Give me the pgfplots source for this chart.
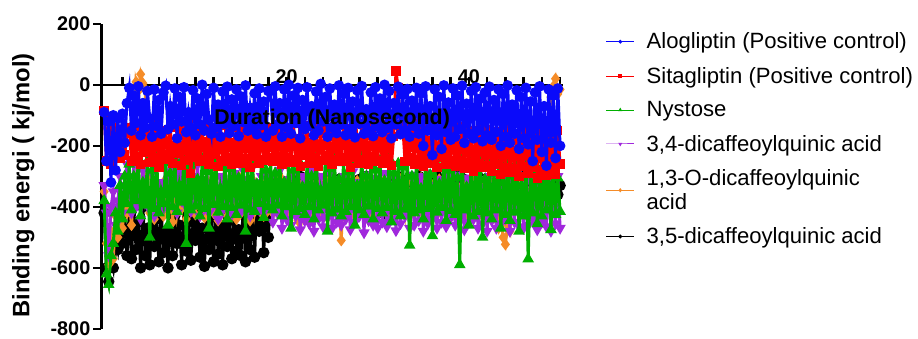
\documentclass[border=0pt]{standalone}
\usepackage{fontspec}
\setmainfont{Liberation Sans}
\usepackage{pgfplots}
\usepackage{pgfplotstable}
\pgfplotsset{compat=1.18}
\definecolor{cblue}{RGB}{10,10,250}
\definecolor{cred}{RGB}{252,0,0}
\definecolor{cgreen}{RGB}{0,175,0}
\definecolor{cpurple}{RGB}{160,40,220}
\definecolor{corange}{RGB}{245,140,40}

\pgfplotstableread{
x B R G P O K
0 -90 -85 -380 -330 -350 -420
0.25 -250 -250 -620 -420 -520 -600
0.5 -120 -110 -655 -560 -590 -645
0.75 -320 -260 -560 -400 -480 -560
1 -100 -140 -520 -350 -570 -600
1.25 -280 -230 -420 -460 -430 -500
1.5 -110 -170 -480 -380 -500 -540
1.75 -220 -240 -330 -300 -400 -450
2 -95 -150 -440 -420 -470 -520
2.25 -190 -230 -300 -330 -380 -420
2.5 -60 -160 -390 -260 -420 -560
2.75 -10 -140 -260 -300 -380 -420
3 -150 -250 -410 -420 -460 -570
3.25 -35 -170 -300 -260 -320 -390
3.5 -125 -235 -380 -400 10 -540
3.75 -5 -135 -240 -330 -20 -450
4 -165 -262 -430 -440 35 -600
4.25 -60 -190 -320 -280 5 -400
4.5 -140 -220 -395 -380 -15 -560
4.75 -20 -145 -250 -350 -300 -470
5 -110 -255 -500 -410 -420 -590
5.25 -170 -160 -280 -290 -350 -380
5.5 -15 -240 -405 -430 -440 -530
5.75 -135 -130 -235 -270 -330 -440
6 -50 -270 -420 -395 -400 -580
6.25 -160 -180 -350 -320 -360 -410
6.5 -25 -245 -390 -405 -430 -550
6.75 -3 -150 -255 -250 -310 -480
7 -145 -230 -460 -390 -410 -600
7.25 -70 -138 -290 -215 -340 -395
7.5 -130 -258 -400 -360 -450 -560
7.75 -12 -200 -245 -230 -300 -430
8 -175 -225 -415 -420 -420 -520
8.25 -40 -142 -330 -210 -370 -460
8.5 -120 -265 -385 -380 -405 -590
8.75 -8 -165 -238 -240 -320 -405
9 -155 -248 -520 -400 -440 -545
9.25 -90 -132 -270 -225 -350 -420
9.5 -140 -290 -410 -415 -415 -575
9.75 -18 -175 -252 -300 -305 -450
10 -165 -236 -398 -390 -425 -510
10.25 -45 -148 -310 -260 -345 -390
10.5 -130 -252 -430 -430 -400 -565
10.75 0 -135 -242 -310 -330 -470
11 -150 -244 -405 -400 -435 -595
11.25 -30 -185 -285 -280 -310 -410
11.5 -115 -260 -470 -420 -410 -540
11.75 -160 -140 -258 -330 -360 -435
12 -10 -228 -392 -395 -420 -580
12.25 -140 -158 -236 -270 -300 -400
12.5 -65 -268 -418 -440 -445 -555
12.75 -170 -132 -340 -300 -340 -460
13 -22 -250 -400 -410 -400 -590
13.25 -128 -172 -248 -250 -315 -385
13.5 -6 -238 -440 -385 -430 -530
13.75 -158 -145 -275 -320 -355 -445
14 -48 -262 -402 -425 -410 -570
14.25 -135 -190 -232 -290 -325 -415
14.5 -15 -230 -425 -405 -440 -545
14.75 -168 -138 -305 -340 -300 -475
15 -38 -256 -395 -415 -420 -560
15.25 -122 -160 -250 -280 -350 -400
15.5 -2 -242 -480 -400 -405 -580
15.75 -150 -134 -265 -310 -335 -430
16 -75 -272 -408 -430 -445 -540
16.25 -140 -178 -240 -270 -310 -395
16.5 -28 -234 -415 -395 -415 -565
16.75 -162 -150 -325 -320 -365 -360
17 -12 -258 -390 -410 -400 -480
17.25 -132 -136 -255 -300 -320 -380
17.5 -55 -246 -435 -420 -430 -550
17.75 -170 -168 -280 -330 -345 -370
18 -20 -240 -400 -400 -410 -500
18.25 -20 -140 -250 -300 -320 -380
18.5 -150 -250 -410 -450 -420 -330
18.75 -5 -165 -290 -330 -350 -400
19 -130 -235 -395 -420 -400 -350
19.25 -60 -130 -240 -280 -300 -370
19.5 -170 -262 -430 -470 -430 -320
19.75 -15 -185 -320 -350 -340 -390
20 -140 -240 -400 -440 -410 -340
20.25 0 -150 -255 -310 -310 -360
20.5 -160 -255 -470 -460 -425 -310
20.75 -35 -125 -280 -290 -360 -380
21 -125 -245 -415 -430 -405 -330
21.25 -10 -175 -245 -340 -445 -350
21.5 -175 -268 -405 -475 -330 -300
21.75 -50 -145 -335 -300 -415 -370
22 -145 -230 -425 -445 -350 -340
22.25 -8 -135 -260 -320 -300 -320
22.5 -135 -258 -400 -455 -430 -360
22.75 -70 -190 -300 -280 -340 -300
23 -165 -238 -440 -480 -410 -380
23.25 -22 -128 -238 -350 -320 -340
23.5 -150 -266 -410 -440 -420 -310
23.75 3 -160 -345 -300 -355 -370
24 -120 -248 -395 -465 -400 -330
24.25 -40 -142 -250 -330 -310 -350
24.5 -170 -232 -480 -435 -435 -300
24.75 -12 -170 -275 -290 -345 -360
25 -140 -260 -420 -470 -415 -320
25.25 -65 -138 -242 -340 -325 -380
25.5 -158 -244 -408 -450 -405 -340
25.75 -2 -182 -310 -310 -360 -310
26 -130 -252 -430 -460 -510 -350
26.25 -30 -130 -255 -300 -330 -330
26.5 -165 -240 -415 -440 -420 -370
26.75 -10 -155 -285 -335 -300 -300
27 -145 -270 -400 -475 -410 -350
27.25 -55 -145 -245 -285 -345 -320
27.5 -172 -236 -460 -450 -430 -380
27.75 -18 -178 -330 -320 -315 -340
28 -128 -256 -410 -430 -400 -310
28.25 -4 -126 -235 -345 -350 -360
28.5 -160 -246 -425 -485 -425 -330
28.75 -80 -165 -300 -295 -305 -300
29 -150 -262 -398 -445 -415 -370
29.25 -25 -140 -260 -330 -335 -340
29.5 -168 -234 -440 -460 -430 -320
29.75 -8 -188 -280 -305 -320 -350
30 -138 -250 -405 -470 -405 -400
30.25 -45 -132 -248 -340 -310 -330
30.5 -155 -258 -420 -450 -420 -420
30.75 0 -160 -315 -290 -350 -360
31 -142 -242 -402 -465 -400 -440
31.25 -20 -148 -240 -325 -325 -340
31.5 -175 -264 -450 -440 -435 -410
31.75 -60 -170 -290 -300 -340 -320
32 -130 45 -415 -478 -410 -360
32.25 -6 -10 -258 -335 -300 -300
32.5 -162 -150 -430 -455 -425 -350
32.75 -32 -136 -270 -310 -355 -330
33 -148 -252 -408 -430 -415 -370
33.25 -14 -176 -245 -350 -320 -310
33.5 -170 -238 -526 -470 -430 -340
33.75 -52 -128 -300 -295 -345 -360
34 -135 -260 -420 -460 -400 -320
34.25 -10 -150 -252 -320 -330 -340
34.5 -160 -244 -410 -445 -420 -300
34.75 -28 -168 -340 -300 -305 -370
35 -200 -266 -440 -480 -410 -330
35.25 -5 -134 -236 -340 -350 -350
35.5 -150 -240 -405 -455 -430 -310
35.75 -70 -184 -295 -290 -320 -380
36 -230 -258 -495 -440 -400 -320
36.25 -15 -142 -250 -330 -340 -360
36.5 -165 -272 -418 -470 -425 -300
36.75 -40 -160 -325 -310 -310 -340
37 -210 -236 -402 -450 -415 -370
37.25 -2 -130 -244 -345 -355 -310
37.5 -155 -262 -445 -465 -405 -350
37.75 -58 -174 -280 -300 -325 -330
38 -180 -248 -412 -435 -435 -360
38.25 -12 -146 -258 -330 -300 -320
38.5 -170 -268 -425 -460 -420 -370
38.75 -35 -180 -305 -295 -345 -300
39 -145 -250 -590 -448 -410 -350
39.25 -3 -138 -240 -340 -330 -340
39.5 -190 -275 -410 -475 -430 -310
39.75 -62 -162 -335 -305 -315 -360
40 -160 -255 -460 -450 -400 -330
40.25 -20 -150 -250 -325 -350 -380
40.5 -175 -282 -430 -440 -425 -320
40.75 -8 -172 -285 -290 -305 -350
41 -150 -260 -415 -470 -415 -300
41.25 -45 -140 -238 -335 -340 -370
41.5 -185 -270 -500 -455 -430 -340
41.75 -25 -190 -310 -310 -320 -310
42 -165 -265 -420 -480 -410 -360
42.25 -6 -148 -255 -300 -335 -330
42.5 -180 -285 -440 -445 -420 -360
42.75 -50 -175 -290 -330 -310 -310
43 -155 -262 -410 -470 -440 -380
43.25 -15 -155 -245 -290 -470 -340
43.5 -200 -295 -470 -455 -430 -300
43.75 -30 -168 -320 -340 -500 -350
44 -170 -270 -425 -440 -523 -370
44.25 -2 -140 -250 -310 -460 -320
44.5 -190 -288 -445 -480 -480 -340
44.75 -65 -182 -300 -325 -330 -360
45 -160 -275 -418 -450 -415 -310
45.25 -18 -160 -240 -295 -350 -380
45.5 -210 -300 -480 -465 -405 -330
45.75 -40 -170 -330 -345 -320 -350
46 -175 -268 -430 -470 -430 -300
46.25 -10 -150 -252 -320 -310 -340
46.5 -195 -290 -571 -460 -420 -370
46.75 -55 -178 -295 -300 -345 -320
47 -250 -272 -420 -440 -400 -350
47.25 -25 -162 -245 -335 -330 -300
47.5 -180 -305 -455 -475 -425 -360
47.75 -5 -145 -315 -290 -305 -330
48 -220 -280 -430 -450 -410 -380
48.25 -70 -185 -258 -330 -350 -310
48.5 -265 -298 -410 -465 -380 -340
48.75 -15 -158 -285 -305 -250 -370
49 -190 -270 -475 -480 -40 -320
49.25 -35 -168 -240 -340 -5 -350
49.5 -240 -292 -425 -455 20 -300
49.75 -12 -150 -305 -300 -30 -360
50 -200 -260 -415 -470 -15 -330
}\datatable

\begin{document}
\begin{tikzpicture}
\begin{axis}[
  scale only axis, width=464bp, height=306.7bp,
  at={(0bp,0bp)}, anchor=south west,
  xmin=-0.3, xmax=50.3, ymin=-800, ymax=200,
  axis x line=middle, axis y line*=left,
  axis line style={line width=2.5bp, -},
  clip mode=individual,
  every tick/.style={black, line width=2.5bp},
  major tick length=8bp, minor tick length=8bp,
  ytick={-800,-600,-400,-200,0,200},
  ytick align=outside,
  xtick={20,40}, minor xtick={2,4,...,50},
  xtick align=center,
  x tick style={yshift=4bp},
  /pgf/number format/assume math mode=true,
  ticklabel style={font=\bfseries\fontsize{20}{24}\selectfont},
  xticklabel style={anchor=south, inner sep=0pt, yshift=5bp},
  yticklabel style={anchor=east, inner sep=0pt, xshift=-3bp},
  ylabel={Binding energi ( kj/mol)},
  every axis y label/.style={at={(axis description cs:0,0.47)}, anchor=center, xshift=-78.5bp, rotate=90, font=\bfseries\fontsize{24}{28}\selectfont},
  xlabel={Duration (Nanosecond)},
  every axis x label/.style={at={(axis description cs:0.5,0.688)}, anchor=center, font=\bfseries\fontsize{21.5}{24}\selectfont},
  legend style={at={(axis description cs:1.0864,0.984)}, anchor=north west, draw=none, fill=none,
    font=\fontsize{22.3}{24}\selectfont, cells={anchor=west, align=left}, row sep=13bp},
  legend image code/.code={\draw[mark repeat=2, mark phase=2, #1, line width=1bp, mark size=1.4bp] plot coordinates {(0bp,0bp) (14bp,0bp) (28bp,0bp)}; \path (37bp,0bp);},
  reverse legend,
]
\addplot[color=black, line width=3bp, mark=*, mark size=4.2bp] table[x=x, y=K]{\datatable};
\addlegendentry{3,5-dicaffeoylquinic acid}
\addplot[color=corange, line width=3bp, mark=diamond*, mark size=3.6bp] table[x=x, y=O]{\datatable};
\addlegendentry{1,3-O-dicaffeoylquinic\\acid}
\addplot[color=cpurple, line width=3bp, mark=triangle*, mark size=3.6bp, mark options={rotate=180}] table[x=x, y=P]{\datatable};
\addlegendentry{3,4-dicaffeoylquinic acid}
\addplot[color=cgreen, line width=3bp, mark=triangle*, mark size=3.8bp] table[x=x, y=G]{\datatable};
\addlegendentry{Nystose}
\addplot[color=cred, line width=3bp, mark=square*, mark size=3.2bp] table[x=x, y=R]{\datatable};
\addlegendentry{Sitagliptin (Positive control)}
\addplot[color=cblue, line width=3bp, mark=*, mark size=3.8bp] table[x=x, y=B]{\datatable};
\addlegendentry{Alogliptin (Positive control)}
\end{axis}
\path (-102bp,-9.3bp) rectangle (816bp,330.7bp);
\end{tikzpicture}
\end{document}
